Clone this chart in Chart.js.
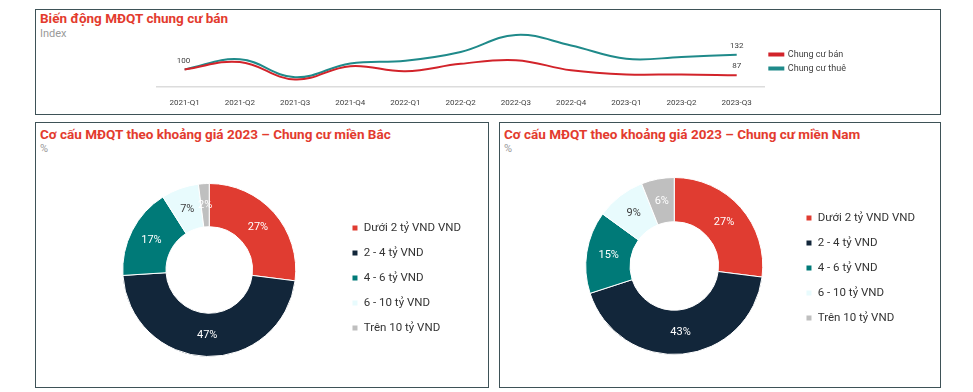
<!DOCTYPE html>
<html>
<head>
<meta charset="utf-8">
<script src="https://cdn.jsdelivr.net/npm/chart.js@4.4.0/dist/chart.umd.min.js"></script>
<style>
  html, body { margin:0; padding:0; background:#fff; width:973px; height:392px; overflow:hidden; font-family: Roboto, "Noto Sans", sans-serif; }
  .box { position:absolute; border:1.5px solid #3e5257; box-sizing:border-box; }
  .title { position:absolute; color:#e33b2e; font-weight:bold; font-size:13.5px; white-space:nowrap; }
  .sub { position:absolute; color:#9a9a9a; font-size:11px; }
  canvas { position:absolute; }
</style>
</head>
<body>
<script>
// ---- Data ----
const quarters = ["2021-Q1","2021-Q2","2021-Q3","2021-Q4","2022-Q1","2022-Q2","2022-Q3","2022-Q4","2023-Q1","2023-Q2","2023-Q3"];
const chungCuBan  = [100, 116, 78, 107, 96, 112, 120, 98, 89, 89, 87];
const chungCuThue = [100, 122, 83, 113, 119, 138, 175, 152, 123, 127, 132];
const lineSeriesNames = ["Chung cư bán", "Chung cư thuê"];

const priceBands = ["Dưới 2 tỷ VND VND", "2 - 4 tỷ VND", "4 - 6 tỷ VND", "6 - 10 tỷ VND", "Trên 10 tỷ VND"];
const shareNorth = [27, 47, 17, 7, 2];
const shareSouth = [27, 43, 15, 9, 6];
</script>

<div class="box" style="left:35px;top:9px;width:906px;height:106px;"></div>
<div class="title" style="left:40px;top:10px;">Biến động MĐQT chung cư bán</div>
<div class="sub" style="left:40px;top:27px;">Index</div>

<div class="box" style="left:35px;top:122px;width:454px;height:266px;"></div>
<div class="title" style="left:40px;top:126px;">Cơ cấu MĐQT theo khoảng giá 2023 – Chung cư miền Bắc</div>
<div class="sub" style="left:40px;top:142px;">%</div>

<div class="box" style="left:499px;top:122px;width:442px;height:266px;"></div>
<div class="title" style="left:504px;top:126px;">Cơ cấu MĐQT theo khoảng giá 2023 – Chung cư miền Nam</div>
<div class="sub" style="left:504px;top:142px;">%</div>

<canvas id="lineChart" style="left:36px;top:20px;" width="900" height="100"></canvas>
<canvas id="north" style="left:37px;top:150px;" width="450" height="236"></canvas>
<canvas id="south" style="left:501px;top:150px;" width="438" height="236"></canvas>

<script>
Chart.defaults.font.family = "Roboto, 'Noto Sans', sans-serif";
Chart.defaults.animation = false;

const RED = "#d2232a", TEAL = "#1f8a8a";

const lineLabelPlugin = {
  id: 'lineLabels',
  afterDatasetsDraw(chart) {
    const ctx = chart.ctx;
    ctx.save();
    ctx.font = "8px Roboto, sans-serif";
    ctx.fillStyle = "#404040";
    ctx.textAlign = "center";
    ctx.textBaseline = "bottom";
    const m0 = chart.getDatasetMeta(0), m1 = chart.getDatasetMeta(1);
    const p0 = m0.data[0];
    ctx.fillText(String(chungCuBan[0]), p0.x - 1, p0.y - 4);
    const n = quarters.length - 1;
    const pt = m1.data[n];
    ctx.fillText(String(chungCuThue[n]), pt.x, pt.y - 5);
    const pb = m0.data[n];
    ctx.fillText(String(chungCuBan[n]), pb.x, pb.y - 5);
    ctx.restore();
  }
};

new Chart(document.getElementById('lineChart'), {
  type: 'line',
  data: {
    labels: quarters,
    datasets: [
      { label: lineSeriesNames[0], data: chungCuBan, borderColor: RED, backgroundColor: RED, borderWidth: 2, pointRadius: 0, tension: 0.4 },
      { label: lineSeriesNames[1], data: chungCuThue, borderColor: TEAL, backgroundColor: TEAL, borderWidth: 2, pointRadius: 0, tension: 0.4 }
    ]
  },
  options: {
    responsive: false,
    layout: { padding: { left: 121, right: 80, top: 8, bottom: 0 } },
    scales: {
      x: {
        offset: true,
        grid: { display: false, drawTicks: false },
        border: { display: true, color: "#dcdcdc", width: 1.5 },
        ticks: { color: "#404040", font: { size: 8 }, padding: 12, maxRotation: 0, autoSkip: false }
      },
      y: { display: false, min: 63, max: 190 }
    },
    plugins: {
      legend: {
        position: 'right',
        align: 'start',
        title: { display: true, text: ' ', font: { size: 10 }, padding: { top: 5, bottom: 0 } },
        labels: { boxWidth: 14, boxHeight: 2, color: "#404040", font: { size: 9 }, padding: 5 }
      },
      tooltip: { enabled: false }
    }
  },
  plugins: [lineLabelPlugin]
});

const donutColors = ["#e03c31", "#12263a", "#007a78", "#e8fbfd", "#bfbfbf"];
const labelColors = ["#ffffff", "#ffffff", "#ffffff", "#404040", "#ffffff"];

const donutLabelPlugin = {
  id: 'donutLabels',
  afterDatasetsDraw(chart) {
    const ctx = chart.ctx;
    const meta = chart.getDatasetMeta(0);
    const data = chart.data.datasets[0].data;
    ctx.save();
    ctx.font = "11px Roboto, sans-serif";
    ctx.textAlign = "center";
    ctx.textBaseline = "middle";
    meta.data.forEach((arc, i) => {
      const p = arc.tooltipPosition();
      ctx.fillStyle = labelColors[i];
      ctx.fillText(data[i] + "%", p.x, p.y);
    });
    ctx.restore();
  }
};

function makeDonut(id, values, pad, titleShift) {
  new Chart(document.getElementById(id), {
    type: 'doughnut',
    data: {
      labels: priceBands,
      datasets: [{ data: values, backgroundColor: donutColors, borderColor: "#ffffff", borderWidth: 1 }]
    },
    options: {
      responsive: false,
      cutout: '50%',
      layout: { padding: pad },
      plugins: {
        legend: {
          position: 'right',
          title: { display: true, text: ' ', font: { size: 2 }, padding: { top: titleShift, bottom: 0 } },
          labels: { boxWidth: 6, boxHeight: 6, color: "#333333", font: { size: 11.5 }, padding: 13.5 }
        },
        tooltip: { enabled: false }
      }
    },
    plugins: [donutLabelPlugin]
  });
}

makeDonut('north', shareNorth, { left: 43, right: 16, top: 33, bottom: 29 }, 13.6);
makeDonut('south', shareSouth, { left: 55, right: 14, top: 27, bottom: 31 }, 1.6);
</script>
</body>
</html>
